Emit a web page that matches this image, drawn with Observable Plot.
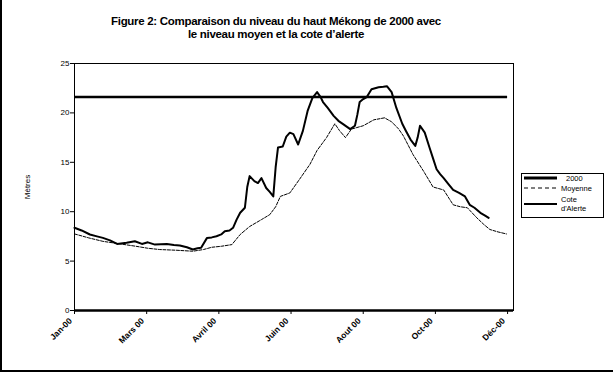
<!DOCTYPE html>
<html>
<head>
<meta charset="utf-8">
<script src="https://cdn.jsdelivr.net/npm/d3@7"></script>
<script src="https://cdn.jsdelivr.net/npm/@observablehq/plot@0.6"></script>
<style>
  html, body { margin: 0; padding: 0; background: #fff; }
  #wrap { position: relative; width: 615px; height: 372px; overflow: hidden; font-family: "Liberation Sans", Arial, sans-serif; }
  #title { position: absolute; left: 0; width: 552px; top: 15px; text-align: center; font-weight: bold; font-size: 11.5px; line-height: 13px; color: #000; letter-spacing: -0.3px; }
  #legend { position: absolute; left: 521px; top: 173px; width: 81px; height: 43px; border: 1px solid #000; background: #fff; font-size: 7.5px; }
  #legend svg { position: absolute; left: 0; top: 0; }
  #border { position: absolute; left: 0; top: -2px; width: 613px; height: 374px; border-left: 2px solid #000; border-bottom: 2px solid #000; box-sizing: border-box; pointer-events: none; }
  #plot { position: absolute; left: 0; top: 0; }
</style>
</head>
<body>
<div id="wrap">
  <div id="plot"></div>
  <div id="title">Figure 2: Comparaison du niveau du haut Mékong de 2000 avec<br>le niveau moyen et la cote d’alerte</div>
  <div id="legend"></div>
  <div id="border"></div>
</div>
<script>
// ---- Data ----
const days2000 = [0, 6, 13, 19, 24, 30, 36, 44, 51, 57, 62, 68, 73, 78, 84, 89, 95, 100, 104, 107, 112, 116, 120, 124, 127, 131, 134, 137, 140, 144, 146, 148, 152, 155, 158, 162, 165, 168, 170, 172, 176, 179, 182, 185, 189, 193, 197, 201, 205, 208, 210, 214, 219, 223, 227, 233, 237, 239, 241, 244, 247, 251, 254, 257, 261, 264, 268, 272, 277, 280, 284, 288, 290, 292, 296, 300, 303, 306, 309, 312, 316, 320, 325, 330, 334, 338, 343, 347, 350];
const values2000 = [8.37, 8.1, 7.69, 7.5, 7.35, 7.1, 6.74, 6.85, 7.01, 6.74, 6.9, 6.67, 6.7, 6.74, 6.62, 6.57, 6.4, 6.17, 6.3, 6.34, 7.35, 7.4, 7.52, 7.7, 8.03, 8.1, 8.37, 9.2, 9.89, 10.4, 12.5, 13.6, 13.1, 12.9, 13.4, 12.4, 12.0, 11.55, 14.5, 16.5, 16.6, 17.6, 18.0, 17.85, 16.8, 18.18, 20.2, 21.5, 22.1, 21.6, 21.1, 20.5, 19.7, 19.2, 18.87, 18.36, 18.7, 19.8, 21.1, 21.4, 21.6, 22.4, 22.5, 22.6, 22.65, 22.7, 22.1, 20.5, 18.9, 18.2, 17.3, 16.66, 17.5, 18.7, 18.0, 16.5, 15.4, 14.3, 13.8, 13.4, 12.8, 12.2, 11.9, 11.55, 10.7, 10.4, 9.89, 9.6, 9.38];

const daysMoy = [0, 12, 24, 38, 52, 62, 72, 86, 100, 109, 116, 124, 133, 140, 148, 158, 165, 170, 174, 182, 190, 199, 205, 213, 220, 224, 229, 234, 244, 253, 262, 268, 274, 278, 286, 295, 303, 312, 320, 326, 332, 340, 346, 351, 358, 365];
const valuesMoy = [7.75, 7.35, 7.0, 6.75, 6.5, 6.3, 6.17, 6.1, 6.0, 6.17, 6.4, 6.5, 6.67, 7.69, 8.5, 9.2, 9.7, 10.5, 11.55, 11.9, 13.25, 14.8, 16.2, 17.5, 18.9, 18.2, 17.5, 18.36, 18.7, 19.3, 19.5, 19.1, 18.36, 17.66, 15.8, 14.1, 12.5, 12.2, 10.7, 10.5, 10.4, 9.38, 8.7, 8.2, 7.95, 7.75];

const alertLevel = 21.6;
const alertStart = 0;
const alertEnd = 366;

const tickDays = [0, 61, 122, 183, 244, 305, 366];
const tickLabels = ["Jan-00", "Mars 00", "Avril 00", "Juin 00", "Aout 00", "Oct-00", "Déc-00"];
const yTicks = [0, 5, 10, 15, 20, 25];

const legendLabels = ["2000", "Moyenne", "Cote", "d'Alerte"];

// ---- Build tables ----
const s2000 = days2000.map((d, i) => ({day: d, value: values2000[i]}));
const sMoy = daysMoy.map((d, i) => ({day: d, value: valuesMoy[i]}));
const xTickTable = tickDays.map((d, i) => ({day: d, label: tickLabels[i]}));

const chart = Plot.plot({
  width: 615,
  height: 372,
  marginLeft: 74,
  marginRight: 102,
  marginTop: 63,
  marginBottom: 62,
  style: {fontFamily: "'Liberation Sans', Arial, sans-serif", background: "transparent", color: "#000"},
  x: {domain: [0, 371]},
  y: {domain: [0, 25]},
  marks: [
    Plot.frame({stroke: "#000", strokeWidth: 1}),
    Plot.axisY({ticks: yTicks, tickSize: 4, tickPadding: 1, fontSize: 8, label: "Mètres", labelAnchor: "center", labelOffset: 50, labelArrow: "none"}),
    Plot.axisX({ticks: tickDays, tickSize: 4, tickFormat: () => "", label: null}),
    Plot.text(xTickTable, {x: "day", frameAnchor: "bottom", dy: 11, dx: -2, text: "label", rotate: -45, textAnchor: "end", fontSize: 8.5, fontWeight: "bold", fill: "#000"}),
    Plot.ruleY([0], {stroke: "#000", strokeWidth: 2.5}),
    Plot.ruleY([alertLevel], {x1: alertStart, x2: alertEnd, stroke: "#000", strokeWidth: 2.5}),
    Plot.line(sMoy, {x: "day", y: "value", stroke: "#000", strokeWidth: 1, strokeDasharray: "3,1.5", curve: "linear"}),
    Plot.line(s2000, {x: "day", y: "value", stroke: "#000", strokeWidth: 2, curve: "linear"})
  ]
});
document.getElementById("plot").appendChild(chart);

// ---- Legend ----
const lg = d3.select("#legend").append("svg").attr("width", 81).attr("height", 43);
lg.append("line").attr("x1", 2).attr("x2", 35).attr("y1", 4).attr("y2", 4).attr("stroke", "#000").attr("stroke-width", 3);
lg.append("line").attr("x1", 2).attr("x2", 35).attr("y1", 14).attr("y2", 14).attr("stroke", "#000").attr("stroke-width", 1).attr("stroke-dasharray", "4,3");
lg.append("line").attr("x1", 2).attr("x2", 35).attr("y1", 30).attr("y2", 30).attr("stroke", "#000").attr("stroke-width", 2);
const tx = [[44, 7, legendLabels[0]], [39, 17, legendLabels[1]], [39, 28, legendLabels[2]], [39, 37, legendLabels[3]]];
tx.forEach(([x, y, t]) => lg.append("text").attr("x", x).attr("y", y).attr("font-size", 7.5).attr("font-family", "'Liberation Sans', Arial, sans-serif").text(t));
</script>
</body>
</html>
